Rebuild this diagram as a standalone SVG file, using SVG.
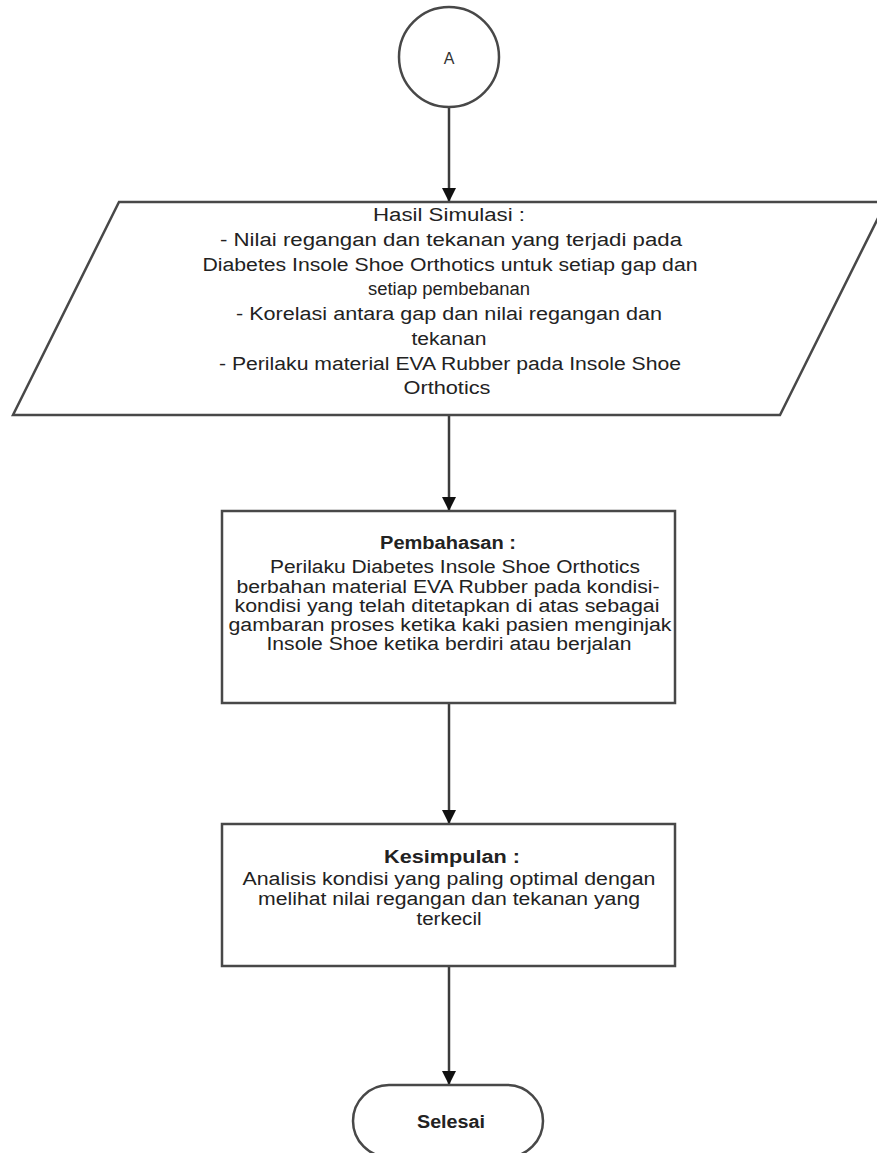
<svg xmlns="http://www.w3.org/2000/svg" width="877" height="1153" viewBox="0 0 877 1153">
<style>
.shape{fill:#fff;stroke:#484848;stroke-width:2.5}
.conn{stroke:#3c3c3c;stroke-width:2.5;fill:none}
.t{font-family:"Liberation Sans",Arial,sans-serif;font-size:18px;fill:#222;text-anchor:middle}
.b{font-weight:bold}
</style>
<defs>
<marker id="arr" markerUnits="userSpaceOnUse" markerWidth="14" markerHeight="16" refX="14" refY="7" orient="auto">
<path d="M0,0 L14,7 L0,14 Z" fill="#111"/>
</marker>
</defs>
<rect width="877" height="1153" fill="#fff"/>
<g id="connectors">
<line class="conn" x1="449" y1="107" x2="449" y2="202" marker-end="url(#arr)"/>
<line class="conn" x1="449" y1="415" x2="449" y2="511" marker-end="url(#arr)"/>
<line class="conn" x1="449" y1="703" x2="449" y2="824" marker-end="url(#arr)"/>
<line class="conn" x1="449" y1="966" x2="449" y2="1085" marker-end="url(#arr)"/>
</g>
<g id="nodeA">
<circle class="shape" cx="449" cy="57" r="50"/>
<text class="t" x="449" y="64" style="font-size:16px;fill:#333">A</text>
</g>
<g id="hasil">
<polygon class="shape" points="119,202 886,202 780,415 13,415"/>
<text class="t" x="449" y="221" textLength="152" lengthAdjust="spacingAndGlyphs">Hasil Simulasi :</text>
<text class="t" x="451" y="246" textLength="462" lengthAdjust="spacingAndGlyphs">- Nilai regangan dan tekanan yang terjadi pada</text>
<text class="t" x="450" y="271" textLength="495" lengthAdjust="spacingAndGlyphs">Diabetes Insole Shoe Orthotics untuk setiap gap dan</text>
<text class="t" x="449" y="295" textLength="162" lengthAdjust="spacingAndGlyphs">setiap pembebanan</text>
<text class="t" x="449" y="320" textLength="426" lengthAdjust="spacingAndGlyphs">- Korelasi antara gap dan nilai regangan dan</text>
<text class="t" x="449" y="345" textLength="75" lengthAdjust="spacingAndGlyphs">tekanan</text>
<text class="t" x="450" y="370" textLength="462" lengthAdjust="spacingAndGlyphs">- Perilaku material EVA Rubber pada Insole Shoe</text>
<text class="t" x="447" y="394" textLength="87" lengthAdjust="spacingAndGlyphs">Orthotics</text>
</g>
<g id="pembahasan">
<rect class="shape" x="222" y="511" width="453" height="192"/>
<text class="t b" x="448" y="549" textLength="136" lengthAdjust="spacingAndGlyphs">Pembahasan :</text>
<text class="t" x="455" y="573" textLength="370" lengthAdjust="spacingAndGlyphs">Perilaku Diabetes Insole Shoe Orthotics</text>
<text class="t" x="448" y="593" textLength="423" lengthAdjust="spacingAndGlyphs">berbahan material EVA Rubber pada kondisi-</text>
<text class="t" x="447" y="612" textLength="425" lengthAdjust="spacingAndGlyphs">kondisi yang telah ditetapkan di atas sebagai</text>
<text class="t" x="450" y="631" textLength="443" lengthAdjust="spacingAndGlyphs">gambaran proses ketika kaki pasien menginjak</text>
<text class="t" x="449" y="650" textLength="365" lengthAdjust="spacingAndGlyphs">Insole Shoe ketika berdiri atau berjalan</text>
</g>
<g id="kesimpulan">
<rect class="shape" x="222" y="824" width="453" height="142"/>
<text class="t b" x="452" y="863" textLength="136" lengthAdjust="spacingAndGlyphs">Kesimpulan :</text>
<text class="t" x="449" y="885" textLength="413" lengthAdjust="spacingAndGlyphs">Analisis kondisi yang paling optimal dengan</text>
<text class="t" x="449" y="905" textLength="382" lengthAdjust="spacingAndGlyphs">melihat nilai regangan dan tekanan yang</text>
<text class="t" x="449" y="925" textLength="65" lengthAdjust="spacingAndGlyphs">terkecil</text>
</g>
<g id="selesai">
<rect class="shape" x="353" y="1085" width="190" height="72" rx="36" ry="36"/>
<text class="t b" x="451" y="1128" textLength="68" lengthAdjust="spacingAndGlyphs">Selesai</text>
</g>
</svg>
